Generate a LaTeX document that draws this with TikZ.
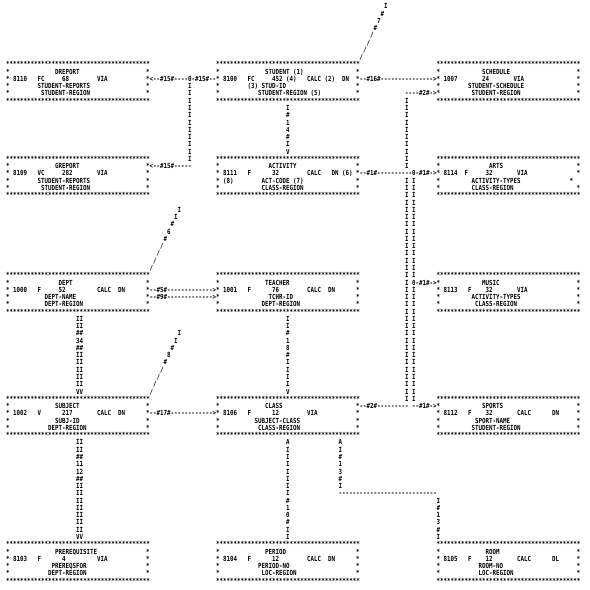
\documentclass[tikz,border=0pt]{standalone}
\usepackage{fontspec}
\newfontfamily\printfont[FakeStretch=0.8333,Ligatures=TeXOff]{DejaVu Sans Mono}
\newcommand\starline{*****************************************}
\tikzset{
  cell/.style={anchor=base west, inner sep=0pt, outer sep=0pt,
    font=\printfont\bfseries\fontsize{7pt}{7pt}\selectfont},
  field/.style={cell},
  link/.style={cell}
}
% record box: rows of stars above and below, side stars on the four text rows
\newcommand\recbox[4][1,2,3,4]{%
  \node[cell] (#2-top) at (#3,#4) {\starline};
  \foreach \k in {1,...,4} \node[cell] (#2-w\k) at (#3,#4+\k) {*};
  \foreach \k in {#1} \node[cell] (#2-e\k) at (#3+40,#4+\k) {*};
  \node[cell] (#2-bot) at (#3,#4+5) {\starline};
}
% set line as a chain of characters, straight down or down to the left
\newcommand\downlink[4]{%
  \foreach \c [count=\i from 0] in {#4} \node[link] (#1-\i) at (#2,#3+\i) {\c};
}
\newcommand\slantlink[4]{%
  \foreach \c [count=\i from 0] in {#4} \node[link] (#1-\i) at (#2-\i,#3+\i) {\c};
}
\begin{document}
\begin{tikzpicture}[x=3.5pt, y=-7.27pt]
\fill[white] (-6pt,8.75pt) rectangle (584pt,-581.25pt);
\useasboundingbox (-6pt,8.75pt) rectangle (584pt,-581.25pt);

% first row of records
\recbox{dreport}{0}{8}
\node[field] (dreport) at (14,9) {DREPORT};
\node[field] (dreport-id) at (2,10) {8110};
\node[field] (dreport-fmt) at (9,10) {FC};
\node[field] (dreport-len) at (16,10) {68};
\node[field] (dreport-loc) at (26,10) {VIA};
\node[field] (dreport-key) at (9,11) {STUDENT-REPORTS};
\node[field] (dreport-area) at (10,12) {STUDENT-REGION};

\recbox{student}{60}{8}
\node[field] (student) at (74,9) {STUDENT (1)};
\node[field] (student-id) at (62,10) {8100};
\node[field] (student-fmt) at (69,10) {FC};
\node[field] (student-len) at (76,10) {452 (4)};
\node[field] (student-loc) at (86,10) {CALC (2)};
\node[field] (student-dup) at (96,10) {DN};
\node[field] (student-n3) at (69,11) {(3)};
\node[field] (student-key) at (73,11) {STUD-ID};
\node[field] (student-area) at (72,12) {STUDENT-REGION (5)};

\recbox{schedule}{123}{8}
\node[field] (schedule) at (136,9) {SCHEDULE};
\node[field] (schedule-id) at (125,10) {1007};
\node[field] (schedule-len) at (136,10) {24};
\node[field] (schedule-loc) at (145,10) {VIA};
\node[field] (schedule-key) at (132,11) {STUDENT-SCHEDULE};
\node[field] (schedule-area) at (133,12) {STUDENT-REGION};

% second row of records
\recbox{greport}{0}{21}
\node[field] (greport) at (14,22) {GREPORT};
\node[field] (greport-id) at (2,23) {8109};
\node[field] (greport-fmt) at (9,23) {VC};
\node[field] (greport-len) at (16,23) {282};
\node[field] (greport-loc) at (26,23) {VIA};
\node[field] (greport-key) at (9,24) {STUDENT-REPORTS};
\node[field] (greport-area) at (10,25) {STUDENT-REGION};

\recbox{activity}{60}{21}
\node[field] (activity) at (75,22) {ACTIVITY};
\node[field] (activity-id) at (62,23) {8111};
\node[field] (activity-fmt) at (69,23) {F};
\node[field] (activity-len) at (76,23) {32};
\node[field] (activity-loc) at (86,23) {CALC};
\node[field] (activity-dup) at (93,23) {DN (6)};
\node[field] (activity-n8) at (62,24) {(8)};
\node[field] (activity-key) at (73,24) {ACT-CODE (7)};
\node[field] (activity-area) at (73,25) {CLASS-REGION};

\recbox[1,2,4]{arts}{123}{21}
\node[cell] (arts-e3) at (161,24) {*};
\node[field] (arts) at (138,22) {ARTS};
\node[field] (arts-id) at (125,23) {8114};
\node[field] (arts-fmt) at (131,23) {F};
\node[field] (arts-len) at (137,23) {32};
\node[field] (arts-loc) at (146,23) {VIA};
\node[field] (arts-key) at (133,24) {ACTIVITY-TYPES};
\node[field] (arts-area) at (133,25) {CLASS-REGION};

% third row of records
\recbox{dept}{0}{37}
\node[field] (dept) at (15,38) {DEPT};
\node[field] (dept-id) at (2,39) {1000};
\node[field] (dept-fmt) at (9,39) {F};
\node[field] (dept-len) at (15,39) {52};
\node[field] (dept-loc) at (26,39) {CALC};
\node[field] (dept-dup) at (32,39) {DN};
\node[field] (dept-key) at (11,40) {DEPT-NAME};
\node[field] (dept-area) at (11,41) {DEPT-REGION};

\recbox{teacher}{60}{37}
\node[field] (teacher) at (74,38) {TEACHER};
\node[field] (teacher-id) at (62,39) {1001};
\node[field] (teacher-fmt) at (69,39) {F};
\node[field] (teacher-len) at (76,39) {76};
\node[field] (teacher-loc) at (86,39) {CALC};
\node[field] (teacher-dup) at (92,39) {DN};
\node[field] (teacher-key) at (75,40) {TCHR-ID};
\node[field] (teacher-area) at (73,41) {DEPT-REGION};

\recbox{music}{123}{37}
\node[field] (music) at (136,38) {MUSIC};
\node[field] (music-id) at (125,39) {8113};
\node[field] (music-fmt) at (132,39) {F};
\node[field] (music-len) at (137,39) {32};
\node[field] (music-loc) at (146,39) {VIA};
\node[field] (music-key) at (133,40) {ACTIVITY-TYPES};
\node[field] (music-area) at (134,41) {CLASS-REGION};

% fourth row of records
\recbox{subject}{0}{54}
\node[field] (subject) at (14,55) {SUBJECT};
\node[field] (subject-id) at (2,56) {1002};
\node[field] (subject-fmt) at (9,56) {V};
\node[field] (subject-len) at (16,56) {217};
\node[field] (subject-loc) at (26,56) {CALC};
\node[field] (subject-dup) at (32,56) {DN};
\node[field] (subject-key) at (14,57) {SUBJ-ID};
\node[field] (subject-area) at (12,58) {DEPT-REGION};

\recbox{class}{60}{54}
\node[field] (class) at (74,55) {CLASS};
\node[field] (class-id) at (62,56) {8106};
\node[field] (class-fmt) at (69,56) {F};
\node[field] (class-len) at (76,56) {12};
\node[field] (class-loc) at (86,56) {VIA};
\node[field] (class-key) at (71,57) {SUBJECT-CLASS};
\node[field] (class-area) at (72,58) {CLASS-REGION};

\recbox{sports}{123}{54}
\node[field] (sports) at (136,55) {SPORTS};
\node[field] (sports-id) at (125,56) {8112};
\node[field] (sports-fmt) at (132,56) {F};
\node[field] (sports-len) at (137,56) {32};
\node[field] (sports-loc) at (146,56) {CALC};
\node[field] (sports-dup) at (156,56) {DN};
\node[field] (sports-key) at (134,57) {SPORT-NAME};
\node[field] (sports-area) at (133,58) {STUDENT-REGION};

% bottom row of records
\recbox{prereq}{0}{74}
\node[field] (prereq) at (14,75) {PREREQUISITE};
\node[field] (prereq-id) at (2,76) {8103};
\node[field] (prereq-fmt) at (9,76) {F};
\node[field] (prereq-len) at (16,76) {4};
\node[field] (prereq-loc) at (26,76) {VIA};
\node[field] (prereq-key) at (13,77) {PREREQSFOR};
\node[field] (prereq-area) at (12,78) {DEPT-REGION};

\recbox{period}{60}{74}
\node[field] (period) at (74,75) {PERIOD};
\node[field] (period-id) at (62,76) {8104};
\node[field] (period-fmt) at (69,76) {F};
\node[field] (period-len) at (76,76) {12};
\node[field] (period-loc) at (86,76) {CALC};
\node[field] (period-dup) at (92,76) {DN};
\node[field] (period-key) at (72,77) {PERIOD-NO};
\node[field] (period-area) at (73,78) {LOC-REGION};

\recbox{room}{123}{74}
\node[field] (room) at (137,75) {ROOM};
\node[field] (room-id) at (125,76) {8105};
\node[field] (room-fmt) at (132,76) {F};
\node[field] (room-len) at (137,76) {12};
\node[field] (room-loc) at (146,76) {CALC};
\node[field] (room-dup) at (156,76) {DL};
\node[field] (room-key) at (135,77) {ROOM-NO};
\node[field] (room-area) at (135,78) {LOC-REGION};

% sets
\slantlink{set7}{108}{0}{I,\#,7,\#,/,/,/,/}
\node[link] (set15-a) at (41,10) {<--\#15\#----0-\#15\#--};
\foreach \r in {11,...,21} \node[link] (set15-\r) at (52,\r) {I};
\node[link] (set15-b) at (41,22) {<--\#15\#-----};
\node[link] (set16) at (101,10) {--\#16\#--------------->};
\downlink{set14}{80}{14}{I,\#,1,4,\#,I,V}
\node[link] (set2-a) at (114,12) {----\#2\#->};
\foreach \r in {13,...,22} \node[link] (set2-\r) at (114,\r) {I};
\foreach \r in {24,...,54} \node[link] (set2-\r) at (114,\r) {I};
\node[link] (set1-a) at (101,23) {--\#1\#----------0-\#1\#->};
\foreach \r in {24,...,37} \node[link] (set1-\r) at (116,\r) {I};
\node[link] (set1-b) at (116,38) {0-\#1\#->};
\foreach \r in {39,...,54} \node[link] (set1-\r) at (116,\r) {I};
\node[link] (set2-b) at (101,55) {--\#2\#---------};
\node[link] (set1-c) at (116,55) {--\#1\#->};
\slantlink{set6}{49}{28}{I,I,\#,6,\#,/,/,/,/}
\node[link] (set5) at (41,39) {--\#5\#------------->};
\node[link] (set9) at (41,40) {--\#9\#------------->};
\downlink{set34}{20}{43}{II,II,\#\#,34,\#\#,II,II,II,II,II,VV}
\downlink{set18}{80}{43}{I,I,\#,1,8,\#,I,I,I,I,V}
\slantlink{set8}{49}{45}{I,I,\#,8,\#,/,/,/,/}
\node[link] (set17) at (41,56) {--\#17\#------------>};
\downlink{set1112}{20}{60}{II,II,\#\#,11,12,\#\#,II,II,II,II,II,II,II,VV}
\downlink{set10}{80}{60}{A,I,I,I,I,I,I,I,\#,1,0,\#,I,I}
\downlink{set13}{95}{60}{A,I,\#,1,3,\#,I}
\node[link] (set13-h) at (95,67) {----------------------------};
\downlink{set13-r}{123}{68}{I,\#,1,3,\#,I}
\end{tikzpicture}
\end{document}
